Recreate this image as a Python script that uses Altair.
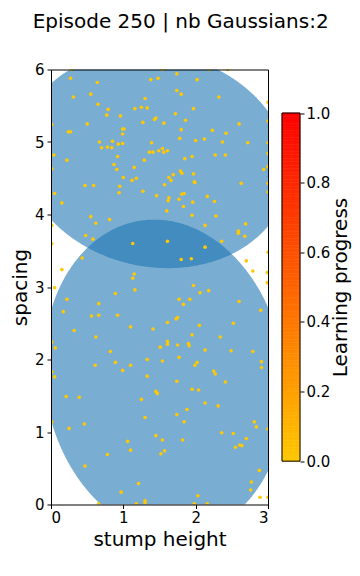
import altair as alt
import numpy as np
import pandas as pd

# ---- data ----
# Gaussian ellipses: centre, full width / height, rotation (degrees)
g_cx = [1.435, 1.57]
g_cy = [4.755, 1.75]
g_w = [3.73, 3.32]
g_h = [2.95, 4.38]
g_ang = [-12.3, 8.8]

pts_x = [0.28,1.54,2.18,2.44,1.74,0.27,0.64,1.38,1.48,2.02,
         0.31,0.55,1.74,1.80,2.32,1.30,0.65,0.79,1.16,1.25,
         1.33,1.97,3.0,0.77,0.96,1.72,1.45,1.43,1.27,1.56,
         1.86,0.50,3.0,2.60,0.01,0.24,0.27,0.99,1.01,0.99,
         1.80,2.23,2.42,0.67,0.85,0.93,0.99,1.39,1.78,2.00,
         2.12,2.37,2.72,3.0,0.70,0.78,0.84,0.04,0.22,0.92,
         1.36,1.41,1.49,1.54,1.56,1.61,1.29,1.85,1.95,2.27,
         2.41,3.0,0.87,1.15,0.91,0.01,3.0,2.94,1.79,1.81,
         1.69,1.97,1.00,1.12,1.18,1.63,1.66,1.98,1.99,2.63,
         3.0,1.57,0.47,0.59,0.95,0.05,0.94,1.27,1.46,1.81,
         1.84,2.16,3.0,1.63,1.62,1.77,2.26,0.15,1.96,1.83,
         1.60,
         0.55,0.62,0.81,1.95,2.28,2.13,2.69,2.59,2.59,2.68,
         0.48,0.58,0.01,0.01,1.13,1.61,2.13,2.36,0.43,1.80,
         1.94,3.0,0.15,2.70,2.79,2.99,2.99,1.15,1.13,0.05,
         1.16,0.89,1.97,2.06,2.18,0.22,0.66,1.77,1.92,1.83,
         2.60,0.17,0.56,0.66,0.92,1.75,1.73,2.90,1.61,2.05,
         2.52,1.10,1.41,0.32,1.95,0.62,2.34,1.61,1.61,0.01,
         1.51,1.75,1.90,1.91,0.06,2.13,2.49,2.79,0.82,1.77,
         0.61,0.89,0.99,1.10,1.33,1.54,1.99,2.02,2.25,2.27,
         2.91,2.91,0.01,0.05,1.33,1.74,2.41,0.21,0.39,1.45,
         1.47,1.95,2.04,1.25,2.13,2.31,1.88,1.74,1.30,1.84,
         0.25,0.46,0.01,2.81,2.84,3.0,1.45,1.54,1.82,2.36,
         2.52,2.70,1.06,1.10,1.57,1.52,2.55,2.61,2.64,0.78,
         0.47,2.88,1.21,2.77,0.97,2.03,2.76,2.89,3.0,0.66,
         1.18,1.30,1.30,1.98,2.16]
pts_y = [6.0,6.0,6.0,6.0,5.94,5.88,5.82,5.86,5.88,5.86,
         5.62,5.66,5.71,5.66,5.62,5.60,5.52,5.45,5.46,5.48,
         5.47,5.46,5.55,5.37,5.36,5.39,5.33,5.31,5.27,5.26,
         5.30,5.25,5.29,5.25,5.24,5.14,5.14,5.18,5.18,5.11,
         5.17,5.16,5.12,5.00,5.01,4.97,4.98,4.99,5.05,5.02,
         5.04,5.00,4.99,4.99,4.92,4.93,4.92,4.82,4.75,4.80,
         4.86,4.86,4.88,4.91,4.86,4.88,4.75,4.77,4.80,4.82,
         4.82,4.84,4.69,4.65,4.62,4.63,4.66,4.62,4.60,4.57,
         4.55,4.56,4.51,4.47,4.50,4.51,4.47,4.45,4.44,4.43,
         4.43,4.41,4.40,4.40,4.39,4.29,4.30,4.32,4.26,4.28,
         4.29,4.25,4.31,4.23,4.19,4.21,4.18,4.16,4.17,4.11,
         4.05,
         3.97,3.88,3.93,3.99,3.98,3.85,3.87,3.77,3.74,3.70,
         3.71,3.66,3.85,3.60,3.60,3.63,3.55,3.63,3.40,3.38,
         3.39,3.48,3.24,3.36,3.22,3.20,3.06,3.18,3.12,2.99,
         2.96,2.91,3.02,2.92,2.95,2.83,2.77,2.83,2.83,2.76,
         2.80,2.66,2.60,2.61,2.61,2.58,2.56,2.68,2.51,2.47,
         2.50,2.45,2.42,2.40,2.34,2.31,2.31,2.25,2.21,2.24,
         2.17,2.20,2.22,2.19,2.16,2.13,2.12,2.11,2.11,2.03,
         1.92,1.96,1.85,1.92,2.00,1.98,1.92,1.96,1.84,1.80,
         1.97,1.89,1.83,1.76,1.77,1.70,1.69,1.49,1.48,1.56,
         1.53,1.59,1.58,1.45,1.40,1.36,1.31,1.24,1.20,1.14,
         1.05,1.11,1.14,1.14,1.07,1.04,0.95,0.89,0.89,0.99,
         0.98,0.91,0.87,0.75,0.74,0.70,0.79,0.82,0.81,0.69,
         0.53,0.47,0.29,0.31,0.17,0.12,0.20,0.10,0.10,0.01,
         0.01,0.05,0.02,0.01,0.01]
pts_lp = [0.0] * len(pts_x)

x_ticks = [0, 1, 2, 3]
y_ticks = [0, 1, 2, 3, 4, 5, 6]
lp_ticks = [0.0, 0.2, 0.4, 0.6, 0.8, 1.0]

LP_LOW, LP_HIGH = "#FFC800", "#FF0000"
BLUE = "#1f77b4"
FONT = "DejaVu Sans"

# ---- ellipse outlines (upper / lower edge for each x) ----
rows = []
for k in range(len(g_cx)):
    a, b = g_w[k] / 2, g_h[k] / 2
    th = np.radians(g_ang[k])
    c, s = np.cos(th), np.sin(th)
    R = np.array([[c, -s], [s, c]])
    M = R @ np.diag([1 / a**2, 1 / b**2]) @ R.T
    A, B2, C = M[0, 0], M[0, 1], M[1, 1]
    det = A * C - B2**2
    ex = np.sqrt(C / det)
    t = np.linspace(np.pi, 0, 301)
    dx = ex * np.cos(t)
    disc = np.clip(B2**2 * dx**2 - C * (A * dx**2 - 1), 0, None)
    lo = (-B2 * dx - np.sqrt(disc)) / C
    hi = (-B2 * dx + np.sqrt(disc)) / C
    for i in range(len(t)):
        rows.append({"g": k, "x": g_cx[k] + dx[i],
                     "lo": g_cy[k] + lo[i], "hi": g_cy[k] + hi[i]})
ell_df = pd.DataFrame(rows)
pts_df = pd.DataFrame({"x": pts_x, "y": pts_y, "lp": pts_lp})

xsc = alt.Scale(domain=[0, 3], nice=False, zero=False)
ysc = alt.Scale(domain=[0, 6], nice=False, zero=False)
cscale = alt.Scale(domain=[0, 1], range=[LP_LOW, LP_HIGH], interpolate="rgb")

ell = alt.Chart(ell_df).mark_area(clip=True, color=BLUE, opacity=0.6,
                                  orient="vertical").encode(
    x=alt.X("x:Q", scale=xsc,
            axis=alt.Axis(orient="top", labels=False, ticks=False, title=None, zindex=1)),
    y=alt.Y("lo:Q", scale=ysc, stack=None,
            axis=alt.Axis(orient="right", labels=False, ticks=False, title=None, zindex=1)),
    y2="hi:Q",
    detail="g:N",
)

pts = alt.Chart(pts_df).mark_circle(clip=True, size=13, opacity=1).encode(
    x=alt.X("x:Q", scale=xsc,
            axis=alt.Axis(values=x_ticks, format="d", title="stump height",
                          labelPadding=2, titlePadding=4, zindex=1)),
    y=alt.Y("y:Q", scale=ysc,
            axis=alt.Axis(values=y_ticks, format="d", title="spacing",
                          labelPadding=3, titlePadding=4, zindex=1)),
    color=alt.Color("lp:Q", scale=cscale, legend=None),
)

main = alt.layer(ell, pts).resolve_axis(x="independent", y="independent").properties(
    width=217, height=435)

# ---- colour bar ----
edges = np.linspace(0, 1, 101)
cb_df = pd.DataFrame({"lo": edges[:-1], "hi": edges[1:],
                      "v": (edges[:-1] + edges[1:]) / 2})
cb_scale = alt.Scale(domain=[-0.1245, 1.125], nice=False, zero=False)
cb = alt.Chart(cb_df).mark_rect(strokeWidth=0.6).encode(
    x=alt.value(0), x2=alt.value(18),
    y=alt.Y("lo:Q", scale=cb_scale,
            axis=alt.Axis(orient="right", values=lp_ticks, format=".1f",
                          title="Learning progress", domain=False,
                          labelPadding=2, titlePadding=1, titleAngle=270,
                          titleBaseline="top", zindex=1)),
    y2="hi:Q",
    color=alt.Color("v:Q", scale=cscale, legend=None),
    stroke=alt.Stroke("v:Q", scale=cscale, legend=None),
)
cb_border = alt.Chart(pd.DataFrame({"lo": [0.0], "hi": [1.0]})).mark_rect(
    fillOpacity=0, stroke="black", strokeWidth=1).encode(
    x=alt.value(0), x2=alt.value(18),
    y=alt.Y("lo:Q", scale=cb_scale), y2="hi:Q")
cbar = alt.layer(cb, cb_border).properties(width=18, height=435)

chart = alt.hconcat(main, cbar, spacing=14, bounds="flush").properties(
    title=alt.TitleParams("Episode 250 | nb Gaussians:2", fontSize=20, font=FONT,
                          fontWeight="normal", anchor="middle", offset=30.5,
                          color="black"),
    padding={"left": 1, "top": 3.5, "right": 0, "bottom": 0},
).configure_axis(
    labelFont=FONT, labelFontSize=15, labelColor="black",
    titleFont=FONT, titleFontSize=20, titleFontWeight="normal", titleColor="black",
    domainColor="black", tickColor="black", tickSize=4, grid=False,
).configure_view(stroke="transparent")

chart.save("out.html", embed_options={"renderer": "svg", "actions": False})
